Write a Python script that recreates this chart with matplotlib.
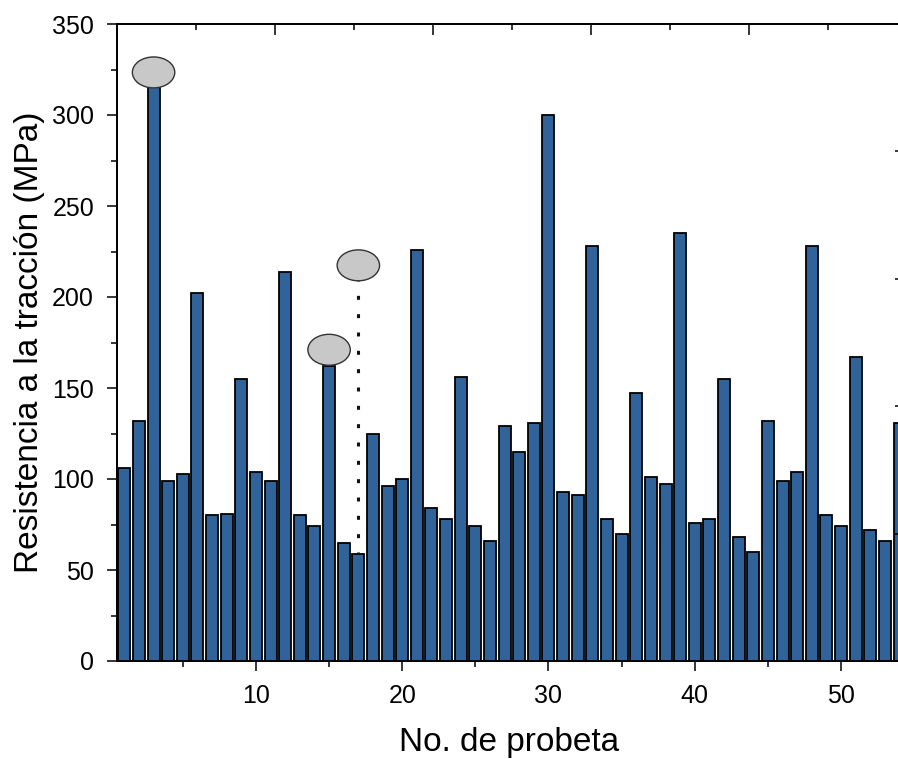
import matplotlib
matplotlib.use("Agg")
import matplotlib.pyplot as plt
from matplotlib.patches import Ellipse
from matplotlib.ticker import MultipleLocator, NullFormatter

plt.rcParams['font.family'] = ['Liberation Sans', 'DejaVu Sans']

# ---- data ----
probeta = list(range(1, 55))
resistencia = [106, 132, 320, 99, 103, 202, 80, 81, 155, 104,
               99, 214, 80, 74, 162, 65, 59, 125, 96, 100,
               226, 84, 78, 156, 74, 66, 129, 115, 131, 300,
               93, 91, 228, 78, 70, 147, 101, 97, 235, 76,
               78, 155, 68, 60, 132, 99, 104, 228, 80, 74,
               167, 72, 66, 131]
# highlighted specimens (x, y of marker)
marcas_x = [3, 15, 17]
marcas_y = [323.4, 171.0, 217.4]
linea_x = [17, 17]
linea_y = [211.0, 59.0]

xlabel = "No. de probeta"
ylabel = "Resistencia a la tracción (MPa)"

W, H = 898, 759
fig = plt.figure(figsize=(W/100, H/100), dpi=100)
ax = fig.add_axes([117/W, (H-661)/H, (901-117)/W, (661-24)/H])

ax.bar(probeta, resistencia, width=0.82, color='#31639b', edgecolor='black',
       linewidth=1.3, zorder=2)

for mx, my in zip(marcas_x, marcas_y):
    e = Ellipse((mx, my), width=2.9, height=17.0, facecolor='#c8c8c8',
                edgecolor='#333333', linewidth=1.0, zorder=4)
    ax.add_patch(e)

ax.plot(linea_x, linea_y, color='#111111', linewidth=2.2, dashes=[1.3, 4.7],
        solid_capstyle='butt', dash_capstyle='butt', zorder=3)

ax.set_xlim(0.5, 54.1)
ax.set_ylim(0, 350)
ax.xaxis.set_major_locator(MultipleLocator(10))
ax.xaxis.set_minor_locator(MultipleLocator(5))
ax.yaxis.set_major_locator(MultipleLocator(50))
ax.yaxis.set_minor_locator(MultipleLocator(25))
ax.tick_params(which='major', direction='out', length=7.5, width=1.1,
               labelsize=18, pad=9, top=False, right=False)
ax.tick_params(which='minor', direction='out', length=4, width=1.1,
               top=False, right=False)
for sp in ax.spines.values():
    sp.set_linewidth(1.1)
ax.set_xlabel(xlabel, fontsize=24, labelpad=14)
ax.set_ylabel(ylabel, fontsize=24, labelpad=5)

# mirrored top axis (inward ticks, own scale)
ax2 = ax.twiny()
ax2.set_xlim(0, 784/15.8)
ax2.xaxis.set_major_locator(MultipleLocator(10))
ax2.xaxis.set_minor_locator(MultipleLocator(5))
ax2.xaxis.set_major_formatter(NullFormatter())
ax2.tick_params(which='major', direction='in', length=8, width=1.1)
ax2.tick_params(which='minor', direction='in', length=4, width=1.1)

# mirrored right axis (inward ticks, own scale)
ax3 = ax.twinx()
ax3.set_ylim(0, 350)
ax3.yaxis.set_major_locator(MultipleLocator(70))
ax3.yaxis.set_major_formatter(NullFormatter())
ax3.tick_params(which='major', direction='in', length=4.5, width=1.1)
ax3.yaxis.set_minor_locator(MultipleLocator(1000))
for a in (ax2, ax3):
    for sp in a.spines.values():
        sp.set_linewidth(1.1)

fig.savefig("out.png", dpi=100)
